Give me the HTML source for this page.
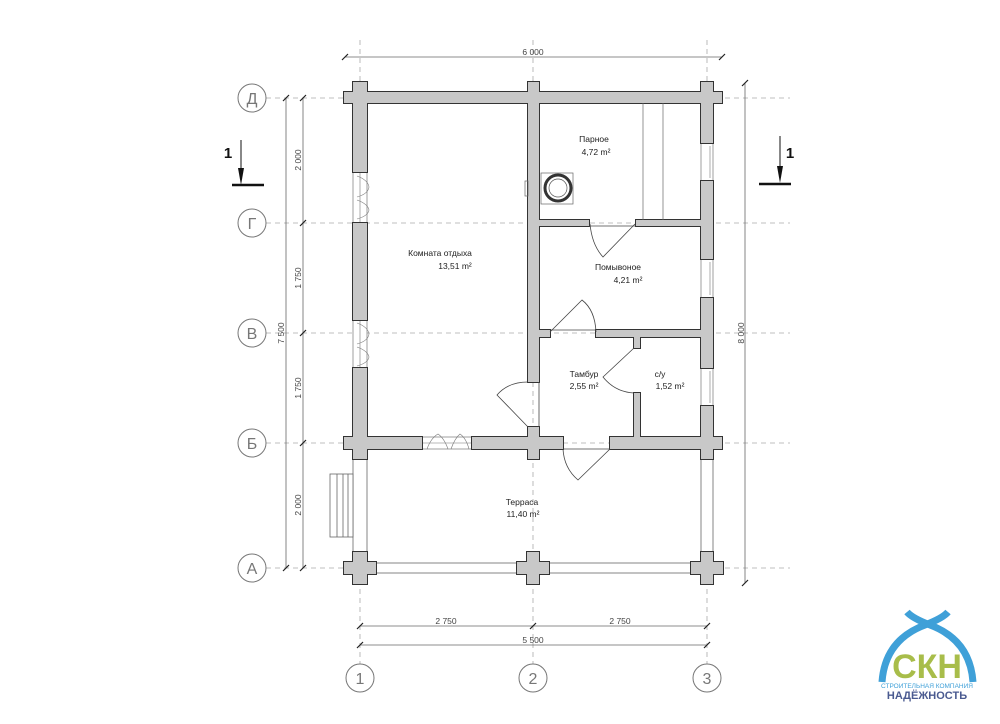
<!DOCTYPE html>
<html><head><meta charset="utf-8"><style>
html,body{margin:0;padding:0;background:#fff;}
svg{display:block;font-family:"Liberation Sans",sans-serif;}
</style></head><body>
<svg width="1000" height="724" viewBox="0 0 1000 724" xmlns="http://www.w3.org/2000/svg">
<!-- axis lines -->
<g stroke="#aaa" stroke-width="0.8" stroke-dasharray="5,4" fill="none">
<line x1="266" y1="98" x2="790" y2="98"/>
<line x1="266" y1="223" x2="790" y2="223"/>
<line x1="266" y1="333" x2="790" y2="333"/>
<line x1="266" y1="443" x2="790" y2="443"/>
<line x1="266" y1="568" x2="790" y2="568"/>
<line x1="360" y1="40" x2="360" y2="664"/>
<line x1="533" y1="40" x2="533" y2="664"/>
<line x1="707" y1="40" x2="707" y2="664"/>
</g>
<!-- axis circles -->
<g stroke="#777" stroke-width="1" fill="#fff">
<circle cx="252" cy="98" r="14"/><circle cx="252" cy="223" r="14"/><circle cx="252" cy="333" r="14"/><circle cx="252" cy="443" r="14"/><circle cx="252" cy="568" r="14"/>
<circle cx="360" cy="678" r="14"/><circle cx="533" cy="678" r="14"/><circle cx="707" cy="678" r="14"/>
</g>
<g fill="#777" font-size="16" text-anchor="middle">
<text x="252" y="104">Д</text><text x="252" y="229">Г</text><text x="252" y="339">В</text><text x="252" y="449">Б</text><text x="252" y="574">А</text>
<text x="360" y="684">1</text><text x="533" y="684">2</text><text x="707" y="684">3</text>
</g>
<!-- dimension lines -->
<g stroke="#666" stroke-width="0.8">
<line x1="345" y1="57" x2="722" y2="57"/>
<line x1="745" y1="83" x2="745" y2="583"/>
<line x1="286" y1="98" x2="286" y2="568"/>
<line x1="303" y1="98" x2="303" y2="568"/>
<line x1="360" y1="626" x2="707" y2="626"/>
<line x1="360" y1="645" x2="707" y2="645"/>
</g>
<g stroke="#222" stroke-width="1.2">
<line x1="342" y1="60" x2="348" y2="54"/><line x1="719" y1="60" x2="725" y2="54"/>
<line x1="742" y1="86" x2="748" y2="80"/><line x1="742" y1="586" x2="748" y2="580"/>
<line x1="283" y1="101" x2="289" y2="95"/><line x1="283" y1="571" x2="289" y2="565"/>
<line x1="300" y1="101" x2="306" y2="95"/><line x1="300" y1="226" x2="306" y2="220"/><line x1="300" y1="336" x2="306" y2="330"/><line x1="300" y1="446" x2="306" y2="440"/><line x1="300" y1="571" x2="306" y2="565"/>
<line x1="357" y1="629" x2="363" y2="623"/><line x1="530" y1="629" x2="536" y2="623"/><line x1="704" y1="629" x2="710" y2="623"/>
<line x1="357" y1="648" x2="363" y2="642"/><line x1="704" y1="648" x2="710" y2="642"/>
</g>
<g fill="#444" font-size="8.5" text-anchor="middle">
<text x="533" y="55">6 000</text>
<text x="446" y="624">2 750</text><text x="620" y="624">2 750</text><text x="533" y="643">5 500</text>
<text transform="translate(744,333) rotate(-90)">8 000</text>
<text transform="translate(284,333) rotate(-90)">7 500</text>
<text transform="translate(301,160) rotate(-90)">2 000</text>
<text transform="translate(301,278) rotate(-90)">1 750</text>
<text transform="translate(301,388) rotate(-90)">1 750</text>
<text transform="translate(301,505) rotate(-90)">2 000</text>
</g>
<!-- section marks -->
<g stroke="#111" fill="#111">
<line x1="241" y1="140" x2="241" y2="178" stroke-width="1"/>
<polygon points="238,168 244,168 241,185" stroke="none"/>
<line x1="232" y1="185" x2="264" y2="185" stroke-width="2.5"/>
<line x1="780" y1="136" x2="780" y2="176" stroke-width="1"/>
<polygon points="777,166 783,166 780,183" stroke="none"/>
<line x1="759" y1="184" x2="791" y2="184" stroke-width="2.5"/>
</g>
<text x="228" y="158" font-size="15" font-weight="bold" fill="#111" text-anchor="middle">1</text>
<text x="790" y="158" font-size="15" font-weight="bold" fill="#111" text-anchor="middle">1</text>
<!-- terrace rails -->
<g fill="#fff" stroke="#666" stroke-width="0.8">
<rect x="353" y="459" width="14" height="93"/>
<rect x="701" y="459" width="12" height="93"/>
<rect x="376" y="563" width="141" height="10"/>
<rect x="549" y="563" width="142" height="10"/>
<rect x="330" y="474" width="23" height="63"/>
</g>
<g stroke="#666" stroke-width="0.8"><line x1="337" y1="474" x2="337" y2="537"/><line x1="343" y1="474" x2="343" y2="537"/><line x1="348" y1="474" x2="348" y2="537"/></g>
<!-- windows in walls -->
<g fill="#fff" stroke="#777" stroke-width="0.7">
<rect x="353" y="172" width="14" height="51"/><rect x="353" y="320" width="14" height="48"/>
<rect x="701" y="143" width="12" height="38"/><rect x="701" y="259" width="12" height="39"/><rect x="701" y="368" width="12" height="38"/>
<rect x="422" y="437" width="50" height="12"/>
<rect x="539" y="382" width="0" height="0"/>
</g>
<g stroke="#777" stroke-width="0.6" fill="none">
<line x1="360" y1="172" x2="360" y2="223"/><line x1="360" y1="320" x2="360" y2="368"/>
<line x1="710" y1="146" x2="710" y2="178"/><line x1="710" y1="262" x2="710" y2="295"/><line x1="710" y1="371" x2="710" y2="403"/>
<line x1="422" y1="443" x2="472" y2="443"/>
<path d="M357,176 Q368,180 369,187 Q368,194 357,197"/><path d="M357,200 Q368,204 369,210 Q368,216 357,219"/>
<path d="M357,323 Q368,327 369,334 Q368,341 357,344"/><path d="M357,347 Q368,351 369,357 Q368,363 357,366"/>
<path d="M427,449 Q431,438 438,434 Q444,438 448,449"/><path d="M451,449 Q455,438 460,434 Q466,438 469,449"/>
</g>
<!-- walls stroke layer -->
<g fill="#c8c8c8" stroke="#333" stroke-width="2">
<rect x="344" y="92" width="378" height="11"/>
<rect x="353" y="82" width="14" height="10"/><rect x="528" y="82" width="11" height="10"/><rect x="701" y="82" width="12" height="10"/>
<rect x="353" y="92" width="14" height="80"/><rect x="353" y="223" width="14" height="97"/><rect x="353" y="368" width="14" height="81"/>
<rect x="344" y="437" width="78" height="12"/><rect x="472" y="437" width="91" height="12"/><rect x="610" y="437" width="112" height="12"/>
<rect x="353" y="449" width="14" height="10"/><rect x="528" y="449" width="11" height="10"/><rect x="701" y="449" width="12" height="10"/>
<rect x="528" y="92" width="11" height="290"/><rect x="528" y="427" width="11" height="22"/>
<rect x="701" y="92" width="12" height="51"/><rect x="701" y="181" width="12" height="78"/><rect x="701" y="298" width="12" height="70"/><rect x="701" y="406" width="12" height="43"/>
<rect x="539" y="220" width="50" height="6"/><rect x="636" y="220" width="65" height="6"/>
<rect x="539" y="330" width="11" height="7"/><rect x="596" y="330" width="105" height="7"/>
<rect x="634" y="337" width="6" height="11"/><rect x="634" y="393" width="6" height="44"/>
<rect x="344" y="562" width="32" height="12"/><rect x="353" y="552" width="14" height="32"/>
<rect x="517" y="562" width="32" height="12"/><rect x="527" y="552" width="12" height="32"/>
<rect x="691" y="562" width="32" height="12"/><rect x="701" y="552" width="12" height="32"/>
</g>
<g fill="#c8c8c8" stroke="none">
<rect x="344" y="92" width="378" height="11"/>
<rect x="353" y="82" width="14" height="10"/><rect x="528" y="82" width="11" height="10"/><rect x="701" y="82" width="12" height="10"/>
<rect x="353" y="92" width="14" height="80"/><rect x="353" y="223" width="14" height="97"/><rect x="353" y="368" width="14" height="81"/>
<rect x="344" y="437" width="78" height="12"/><rect x="472" y="437" width="91" height="12"/><rect x="610" y="437" width="112" height="12"/>
<rect x="353" y="449" width="14" height="10"/><rect x="528" y="449" width="11" height="10"/><rect x="701" y="449" width="12" height="10"/>
<rect x="528" y="92" width="11" height="290"/><rect x="528" y="427" width="11" height="22"/>
<rect x="701" y="92" width="12" height="51"/><rect x="701" y="181" width="12" height="78"/><rect x="701" y="298" width="12" height="70"/><rect x="701" y="406" width="12" height="43"/>
<rect x="539" y="220" width="50" height="6"/><rect x="636" y="220" width="65" height="6"/>
<rect x="539" y="330" width="11" height="7"/><rect x="596" y="330" width="105" height="7"/>
<rect x="634" y="337" width="6" height="11"/><rect x="634" y="393" width="6" height="44"/>
<rect x="344" y="562" width="32" height="12"/><rect x="353" y="552" width="14" height="32"/>
<rect x="517" y="562" width="32" height="12"/><rect x="527" y="552" width="12" height="32"/>
<rect x="691" y="562" width="32" height="12"/><rect x="701" y="552" width="12" height="32"/>
</g>
<!-- doors -->
<g stroke="#444" stroke-width="0.8" fill="none">
<path d="M590,224 Q592,245 603,257 L635,224"/>
<path d="M550,332 L582,300 Q595,310 596,332"/>
<path d="M634,348 L603,377 Q615,392 634,393"/>
<path d="M528,382 Q508,382 497,395 L528,427"/>
<path d="M563,449 Q564,468 578,480 L610,449"/>
<line x1="539" y1="382" x2="539" y2="427"/>
<line x1="563" y1="449" x2="610" y2="449"/>
<line x1="550" y1="330" x2="596" y2="330"/>
<line x1="589" y1="226" x2="636" y2="226"/>
</g>
<!-- sauna shelves & stove -->
<g stroke="#666" stroke-width="0.7" fill="none">
<line x1="643" y1="103" x2="643" y2="220"/><line x1="663" y1="103" x2="663" y2="220"/>
<rect x="541" y="173" width="32" height="31"/>
<rect x="525" y="181" width="3" height="15"/>
</g>
<circle cx="558" cy="188" r="13" fill="none" stroke="#333" stroke-width="3"/>
<circle cx="558" cy="188" r="9" fill="#fff" stroke="#555" stroke-width="0.7"/>
<!-- labels -->
<g fill="#222" font-size="8.5" text-anchor="middle">
<text x="594" y="142">Парное</text><text x="596" y="155">4,72 m²</text>
<text x="440" y="256">Комната отдыха</text><text x="455" y="269">13,51 m²</text>
<text x="618" y="270">Помывоное</text><text x="628" y="283">4,21 m²</text>
<text x="584" y="377">Тамбур</text><text x="584" y="389">2,55 m²</text>
<text x="660" y="377">с/у</text><text x="670" y="389">1,52 m²</text>
<text x="522" y="505">Терраса</text><text x="523" y="517">11,40 m²</text>
</g>
<!-- logo -->
<g>
<path d="M882,682 Q885,640 925,625 Q943,618 948,612" stroke="#3fa0d8" stroke-width="7" fill="none"/>
<path d="M973,682 Q970,640 930,625 Q912,618 907,612" stroke="#3fa0d8" stroke-width="7" fill="none"/>
<text x="927" y="678" font-size="34" font-weight="bold" fill="#a8bd4a" text-anchor="middle" font-family="'Liberation Sans Narrow','Liberation Sans',sans-serif">СКН</text>
<text x="927" y="688" font-size="6.5" fill="#3fa0d8" text-anchor="middle">СТРОИТЕЛЬНАЯ КОМПАНИЯ</text>
<text x="927" y="699" font-size="11" font-weight="bold" fill="#4a5a90" text-anchor="middle">НАДЁЖНОСТЬ</text>
</g>
</svg>
</body></html>
